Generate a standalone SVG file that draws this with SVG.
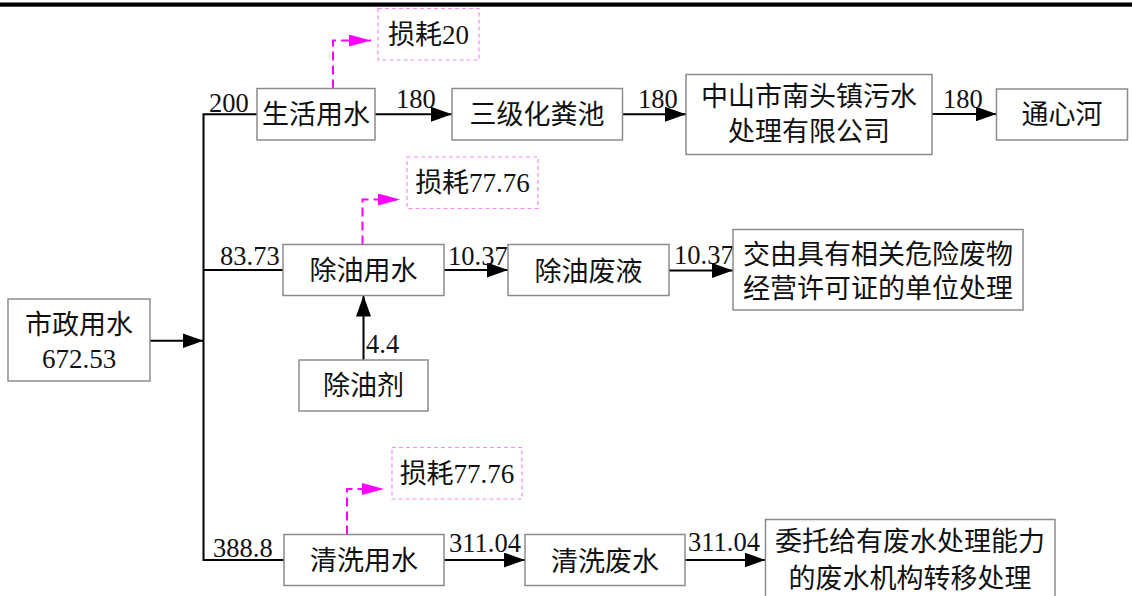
<svg xmlns="http://www.w3.org/2000/svg" width="1132" height="596" viewBox="0 0 1132 596">
<style>
.box{fill:#fff;stroke:#8c8c8c;stroke-width:1.5}
.loss{fill:#fff;stroke:#f08cf0;stroke-width:1.2;stroke-dasharray:4 3}
.t{font-family:"Liberation Serif","Noto Sans CJK SC",serif;font-size:27px;fill:#111;text-anchor:middle;dominant-baseline:central}
.n{font-family:"Liberation Serif","Noto Sans CJK SC",serif;font-size:26.5px;fill:#111}
.ln{fill:none;stroke:#000;stroke-width:2}
.mg{fill:none;stroke:#ff00ff;stroke-width:2;stroke-dasharray:9 5}
</style>
<defs>
<marker id="ab" markerUnits="userSpaceOnUse" markerWidth="22" markerHeight="16" refX="21" refY="7.5" orient="auto"><path d="M0,0 L21,7.5 L0,15 z" fill="#000"/></marker>
<marker id="am" markerUnits="userSpaceOnUse" markerWidth="23" markerHeight="13" refX="22" refY="6" orient="auto"><path d="M0,0 L22,6 L0,12 z" fill="#ff00ff"/></marker>
</defs>
<rect x="0" y="2.5" width="1132" height="4.2" fill="#000"/>
<g id="connectors">
<polyline class="ln" points="257,114.3 203.5,114.3 203.5,560 284,560"/>
<line class="ln" x1="203.5" y1="270" x2="283" y2="270"/>
<line class="ln" x1="150" y1="340.7" x2="203.5" y2="340.7" marker-end="url(#ab)"/>
<line class="ln" x1="375" y1="114.3" x2="452" y2="114.3" marker-end="url(#ab)"/>
<line class="ln" x1="622.5" y1="114.3" x2="686" y2="114.3" marker-end="url(#ab)"/>
<line class="ln" x1="932" y1="114" x2="996.5" y2="114" marker-end="url(#ab)"/>
<line class="ln" x1="363.5" y1="360" x2="363.5" y2="295.5" marker-end="url(#ab)"/>
<line class="ln" x1="444" y1="270" x2="508" y2="270" marker-end="url(#ab)"/>
<line class="ln" x1="669" y1="270.5" x2="733" y2="270.5" marker-end="url(#ab)"/>
<line class="ln" x1="444" y1="560" x2="525" y2="560" marker-end="url(#ab)"/>
<line class="ln" x1="685" y1="560" x2="765.5" y2="560" marker-end="url(#ab)"/>
<path class="mg" d="M333,88.5 V40.5 H371" marker-end="url(#am)"/>
<path class="mg" d="M362.5,244.5 V199.5 H400" marker-end="url(#am)"/>
<path class="mg" d="M347,534.5 V489 H384" marker-end="url(#am)"/>
<text class="n" x="209" y="111.7">200</text>
<text class="n" x="396" y="108">180</text>
<text class="n" x="638" y="108">180</text>
<text class="n" x="943" y="108">180</text>
<text class="n" x="220" y="265">83.73</text>
<text class="n" x="448" y="264.5">10.37</text>
<text class="n" x="674" y="264">10.37</text>
<text class="n" x="366" y="353">4.4</text>
<text class="n" x="213" y="556.5">388.8</text>
<text class="n" x="449" y="551.5">311.04</text>
<text class="n" x="688" y="551">311.04</text>
</g>
<g id="n-shizheng"><rect class="box" x="8" y="299" width="142" height="82"/><text class="t" x="79" y="325">市政用水</text><text class="t" x="79" y="358.5">672.53</text></g>
<g id="n-shenghuo"><rect class="box" x="257" y="88.5" width="118" height="51.5"/><text class="t" x="316" y="115">生活用水</text></g>
<g id="n-sanji"><rect class="box" x="452" y="88.5" width="170.5" height="51.5"/><text class="t" x="537" y="115">三级化粪池</text></g>
<g id="n-zhongshan"><rect class="box" x="686" y="74.5" width="246" height="80"/><text class="t" x="809" y="97">中山市南头镇污水</text><text class="t" x="809" y="131.5">处理有限公司</text></g>
<g id="n-tongxin"><rect class="box" x="996.5" y="89" width="131" height="51"/><text class="t" x="1062" y="115">通心河</text></g>
<g id="n-loss1"><rect class="loss" x="378" y="8.5" width="101" height="51.5"/><text class="t" x="428.5" y="35">损耗20</text></g>
<g id="n-chuyou"><rect class="box" x="283" y="244.5" width="161" height="51"/><text class="t" x="363.5" y="271">除油用水</text></g>
<g id="n-feiye"><rect class="box" x="508" y="244.5" width="161" height="51"/><text class="t" x="588.5" y="271.5">除油废液</text></g>
<g id="n-jiaoyou"><rect class="box" x="733" y="229.5" width="290" height="80.5"/><text class="t" x="878" y="255">交由具有相关危险废物</text><text class="t" x="878" y="288.5">经营许可证的单位处理</text></g>
<g id="n-chuyouji"><rect class="box" x="299" y="360" width="129" height="51"/><text class="t" x="363.5" y="386">除油剂</text></g>
<g id="n-loss2"><rect class="loss" x="407" y="157" width="131" height="51.5"/><text class="t" x="472.5" y="183">损耗77.76</text></g>
<g id="n-qingxi"><rect class="box" x="284" y="534.5" width="160" height="51"/><text class="t" x="364" y="561">清洗用水</text></g>
<g id="n-qxfeishui"><rect class="box" x="525" y="534.5" width="160" height="51"/><text class="t" x="605" y="561.5">清洗废水</text></g>
<g id="n-weituo"><rect class="box" x="765.5" y="519.5" width="289.5" height="90"/><text class="t" x="910" y="542">委托给有废水处理能力</text><text class="t" x="910" y="579">的废水机构转移处理</text></g>
<g id="n-loss3"><rect class="loss" x="392" y="447.5" width="130" height="51.5"/><text class="t" x="457" y="473.5">损耗77.76</text></g>
</svg>
